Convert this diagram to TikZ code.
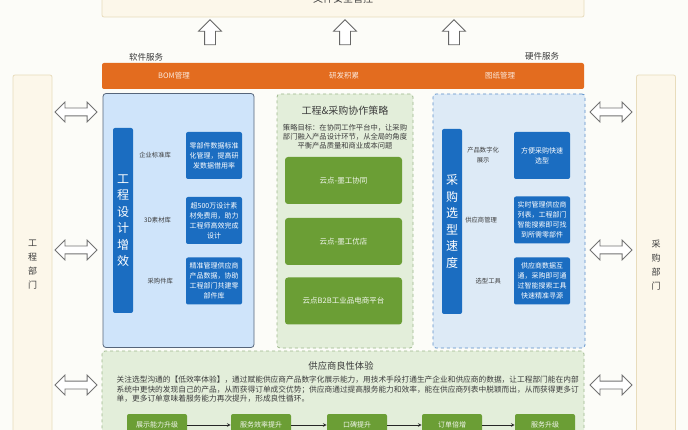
\documentclass[tikz,border=0pt]{standalone}
\usepackage{fontspec}
\setmainfont{Noto Sans CJK SC}
\usetikzlibrary{shapes.arrows,positioning}

\definecolor{pagebg}{HTML}{FCFCF8}
\definecolor{creamfill}{HTML}{FCF7EA}
\definecolor{creamline}{HTML}{E8DCBC}
\definecolor{barorange}{HTML}{E36C1F}
\definecolor{lightblue}{HTML}{CFE4FA}
\definecolor{paleblue}{HTML}{DDEAF6}
\definecolor{darkblue}{HTML}{1B6DC1}
\definecolor{slateline}{HTML}{56657A}
\definecolor{dashblue}{HTML}{5B8FC9}
\definecolor{palegreen}{HTML}{E3EEDA}
\definecolor{dashgreen}{HTML}{9DB88C}
\definecolor{leafgreen}{HTML}{6B9E35}
\definecolor{textgray}{HTML}{3C3C3C}

\tikzset{
  panel/.style={rectangle, rounded corners=3pt, minimum width=#1, minimum height=254pt, inner sep=0pt},
  infobox/.style={rectangle, fill=darkblue, text=white, rounded corners=2pt, minimum width=56pt, minimum height=47pt, inner sep=2pt, align=center, font=\fontsize{7}{10}\selectfont},
  sidebar/.style={rectangle, fill=darkblue, text=white, rounded corners=2pt, minimum width=20pt, minimum height=185pt, inner sep=0pt, align=center, font=\fontsize{12}{16.5}\selectfont},
  platform/.style={rectangle, fill=leafgreen, text=white!92!leafgreen, rounded corners=3pt, minimum width=117pt, minimum height=47pt, font=\fontsize{7.5}{9}\selectfont},
  flowstep/.style={rectangle, fill=leafgreen, text=white!92!leafgreen, rounded corners=2pt, minimum width=60pt, minimum height=22pt, font=\fontsize{7}{9}\selectfont},
  itemlabel/.style={text=textgray, align=center, font=\fontsize{6.3}{10}\selectfont},
  deptbox/.style={rectangle, draw=creamline, fill=creamfill, rounded corners=2pt, minimum width=39pt, minimum height=380pt, align=center, text=textgray, font=\fontsize{9}{14}\selectfont},
  dblarrow/.style={double arrow, draw=black!55, fill=white, thick, minimum height=42pt, inner sep=3.5pt, double arrow head extend=6pt},
  uparrow/.style={single arrow, draw=black!60, fill=white, thick, rotate=90, minimum height=25pt, inner sep=5pt, single arrow head extend=6pt},
  barlabel/.style={text=white!85!barorange, font=\fontsize{7.5}{9}\selectfont}
}

\begin{document}
\begin{tikzpicture}[x=1pt, y=-1pt, >=stealth, thick]
  \fill[pagebg] (0,0) rectangle (688,430);
  \useasboundingbox (0,0) rectangle (688,430);

  % Top
  \node[rectangle, draw=creamline, fill=creamfill, rounded corners=2pt, minimum width=482pt, minimum height=37pt] (security) at (343,-1.5) {};
  \node[text=textgray, font=\fontsize{10}{12}\selectfont] (securitytext) at (343,-1) {文件安全管控};
  \foreach \x in {210,345,454}
    \node[uparrow] at (\x,35) {};

  \node[text=textgray, font=\fontsize{8.5}{10}\selectfont] (softlabel) at (146,57) {软件服务};
  \node[text=textgray, font=\fontsize{8.5}{10}\selectfont] (hardlabel) at (542,56) {硬件服务};

  % Service bar
  \node[rectangle, fill=barorange, rounded corners=2pt, minimum width=482pt, minimum height=26pt] (servicebar) at (343,76) {};
  \node[barlabel] (bom) at (174,76) {BOM管理};
  \node[barlabel] (rnd) at (344,76) {研发积累};
  \node[barlabel] (drawing) at (500,76) {图纸管理};

  % Departments
  \node[deptbox] (engdept) at (32.5,265) {工\\程\\部\\门};
  \node[deptbox] (purdept) at (656,265) {采\\购\\部\\门};
  \foreach \y in {112,250,385} {
    \node[dblarrow] at (76,\y) {};
    \node[dblarrow] at (611,\y) {};
  }

  % Left panel
  \node[panel=151pt, draw=slateline, fill=lightblue] (engpanel) at (178.5,220.5) {};
  \node[sidebar] (engbar) at (123,220.5) {工\\程\\设\\计\\增\\效};
  \node[infobox] (engbox1) at (214,155.5) {零部件数据标准\\化管理，提高研\\发数据借用率};
  \node[infobox] (engbox2) at (214,220.5) {超500万设计素\\材免费用，助力\\工程师高效完成\\设计};
  \node[infobox] (engbox3) at (214,281) {精准管理供应商\\产品数据，协助\\工程部门共建零\\部件库};
  \node[itemlabel, left=11pt of engbox1] (stdlib) {企业标准库};
  \node[itemlabel, left=11pt of engbox2] (modellib) {3D素材库};
  \node[itemlabel, left=9pt of engbox3] (partlib) {采购件库};

  % Middle panel
  \node[panel=136pt, draw=dashgreen, dashed, fill=palegreen] (strategy) at (345,221) {};
  \node[text=textgray, font=\fontsize{10}{12}\selectfont] (strategytitle) at (345,111) {工程\&采购协作策略};
  \node[text=textgray, align=center, font=\fontsize{7.3}{9}\selectfont, below=1pt of strategytitle] (strategygoal) {策略目标：在协同工作平台中，让采购\\部门融入产品设计环节，从全局的角度\\平衡产品质量和商业成本问题};
  \node[platform] (cowork) at (343.5,180.5) {云点-墨工协同};
  \node[platform] (shop) at (343.5,241.5) {云点-墨工优店};
  \node[platform] (mall) at (343.5,301) {云点B2B工业品电商平台};

  % Right panel
  \node[panel=152pt, draw=dashblue, dashed, fill=paleblue] (purpanel) at (509,221) {};
  \node[sidebar] (purbar) at (452,221.5) {采\\购\\选\\型\\速\\度};
  \node[infobox] (purbox1) at (542,155.5) {方便采购快速\\选型};
  \node[infobox] (purbox2) at (542,220) {实时管理供应商\\列表，工程部门\\智能搜索即可找\\到所需零部件};
  \node[infobox] (purbox3) at (542,281) {供应商数据互\\通，采购即可通\\过智能搜索工具\\快速精准寻源};
  \node[itemlabel, left=11pt of purbox1] (showcase) {产品数字化\\展示};
  \node[itemlabel, left=13pt of purbox2] (suppliers) {供应商管理};
  \node[itemlabel, left=9pt of purbox3] (selector) {选型工具};

  % Bottom panel
  \node[rectangle, draw=dashgreen, dashed, fill=palegreen, rounded corners=3pt, minimum width=482pt, minimum height=94pt] (experience) at (343,398) {};
  \node[text=textgray, font=\fontsize{9.3}{11}\selectfont] (experiencetitle) at (341,366) {供应商良性体验};
  \node[text=textgray, align=left, font=\fontsize{7.7}{9.6}\selectfont, anchor=north west] (experiencetext) at (113,372.5) {关注选型沟通的【低效率体验】，通过赋能供应商产品数字化展示能力，用技术手段打通生产企业和供应商的数据，让工程部门能在内部\\系统中更快的发现自己的产品，从而获得订单成交优势；供应商通过提高服务能力和效率，能在供应商列表中脱颖而出，从而获得更多订\\单，更多订单意味着服务能力再次提升，形成良性循环。};

  \node[flowstep] (step1) at (157,425) {展示能力升级};
  \node[flowstep] (step2) at (261,425) {服务效率提升};
  \node[flowstep] (step3) at (357,425) {口碑提升};
  \node[flowstep] (step4) at (452,425) {订单倍增};
  \node[flowstep] (step5) at (545,425) {服务升级};
  \foreach \a/\b in {step1/step2,step2/step3,step3/step4,step4/step5}
    \draw[->, black!85, semithick] (\a) -- (\b);
\end{tikzpicture}
\end{document}
